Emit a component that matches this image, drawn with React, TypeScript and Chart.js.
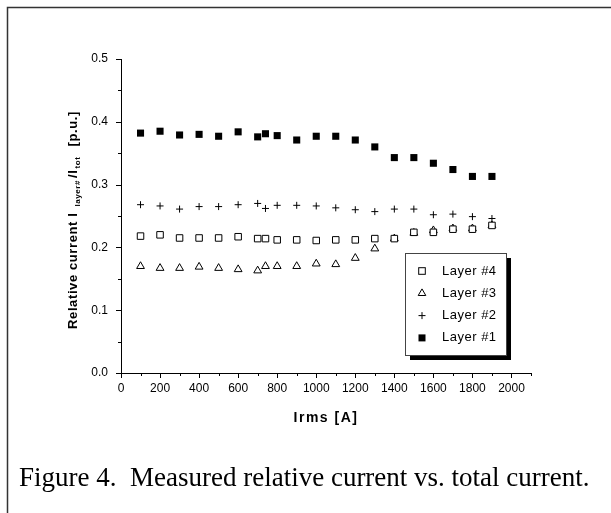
import React, { useEffect, useRef } from 'react';
import { Chart, registerables } from 'chart.js';

Chart.register(...registerables);

// ---- data ----
const IRMS = [100, 200, 300, 400, 500, 600, 700, 740, 800, 900, 1000, 1100, 1200, 1300, 1400, 1500, 1600, 1700, 1800, 1900];
const LAYER4 = [0.218, 0.220, 0.215, 0.215, 0.215, 0.217, 0.214, 0.214, 0.212, 0.212, 0.211, 0.212, 0.212, 0.214, 0.214, 0.224, 0.224, 0.229, 0.229, 0.235];
const LAYER3 = [0.170, 0.167, 0.167, 0.169, 0.167, 0.165, 0.163, 0.170, 0.170, 0.170, 0.174, 0.173, 0.183, 0.198, 0.214, 0.223, 0.227, 0.230, 0.230, 0.235];
const LAYER2 = [0.268, 0.266, 0.261, 0.265, 0.265, 0.268, 0.270, 0.262, 0.267, 0.267, 0.266, 0.263, 0.260, 0.257, 0.261, 0.261, 0.252, 0.253, 0.249, 0.246];
const LAYER1 = [0.382, 0.385, 0.379, 0.380, 0.377, 0.384, 0.376, 0.381, 0.378, 0.371, 0.377, 0.377, 0.371, 0.360, 0.343, 0.343, 0.334, 0.324, 0.313, 0.313];
const SERIES_LABELS = ['Layer #4', 'Layer #3', 'Layer #2', 'Layer #1'];
const X_TICKS = [0, 200, 400, 600, 800, 1000, 1200, 1400, 1600, 1800, 2000];
const Y_TICKS = [0, 0.1, 0.2, 0.3, 0.4, 0.5];
const X_MIN = 0, X_MAX = 2100, X_MINOR = 100;
const Y_MIN = 0, Y_MAX = 0.5, Y_MINOR = 0.05;
const X_TITLE = 'Irms [A]';
const Y_TITLE_MAIN = 'Relative current I';
const Y_TITLE_SUB1 = 'layer#';
const Y_TITLE_MID = '/I';
const Y_TITLE_SUB2 = 'tot';
const Y_TITLE_END = '[p.u.]';
const CAPTION = 'Figure 4.  Measured relative current vs. total current.';

const SANS = '"Liberation Sans", Arial, sans-serif';
const SERIF = '"Liberation Serif", "Times New Roman", serif';

const pts = (ys: number[]) => IRMS.map((x, i) => ({ x, y: ys[i] }));

function drawMarker(ctx: CanvasRenderingContext2D, kind: number, x: number, y: number) {
  ctx.save();
  ctx.strokeStyle = '#000';
  ctx.lineWidth = 1;
  if (kind === 0) {
    ctx.fillStyle = '#fff';
    ctx.fillRect(x - 3.3, y - 3.3, 6.6, 6.6);
    ctx.strokeRect(x - 3.3, y - 3.3, 6.6, 6.6);
  } else if (kind === 1) {
    const r = 4.4;
    ctx.beginPath();
    ctx.moveTo(x, y - r);
    ctx.lineTo(x + r * 0.866, y + r * 0.5);
    ctx.lineTo(x - r * 0.866, y + r * 0.5);
    ctx.closePath();
    ctx.fillStyle = '#fff';
    ctx.fill();
    ctx.stroke();
  } else if (kind === 2) {
    ctx.beginPath();
    ctx.moveTo(x - 3.5, y);
    ctx.lineTo(x + 3.5, y);
    ctx.moveTo(x, y - 3.5);
    ctx.lineTo(x, y + 3.5);
    ctx.stroke();
  } else {
    ctx.fillStyle = '#000';
    ctx.fillRect(x - 3.5, y - 3.5, 7, 7);
  }
  ctx.restore();
}

const decorPlugin = {
  id: 'decor',
  beforeDraw(chart: any) {
    const ctx: CanvasRenderingContext2D = chart.ctx;
    ctx.save();
    ctx.fillStyle = '#fff';
    ctx.fillRect(0, 0, chart.width, chart.height);
    ctx.strokeStyle = '#333';
    ctx.lineWidth = 1.5;
    ctx.strokeRect(7.5, 7.5, 700, 700);
    ctx.restore();
  },
  afterDraw(chart: any) {
    const ctx: CanvasRenderingContext2D = chart.ctx;
    const xs = chart.scales.x;
    const ys = chart.scales.y;
    const area = chart.chartArea;
    ctx.save();
    // ticks
    ctx.strokeStyle = '#000';
    ctx.lineWidth = 1;
    ctx.beginPath();
    for (let v = X_MIN; v <= X_MAX + 1e-6; v += X_MINOR) {
      const px = Math.round(xs.getPixelForValue(v)) + 0.5;
      const major = Math.abs(v % 200) < 1e-6;
      ctx.moveTo(px, area.bottom);
      ctx.lineTo(px, area.bottom + (major ? 5 : 3));
    }
    for (let i = 0; i <= Math.round((Y_MAX - Y_MIN) / Y_MINOR); i++) {
      const v = Y_MIN + i * Y_MINOR;
      const py = Math.round(ys.getPixelForValue(v)) + 0.5;
      const major = i % 2 === 0;
      ctx.moveTo(area.left, py);
      ctx.lineTo(area.left - (major ? 5 : 3), py);
    }
    ctx.stroke();

    // x title
    ctx.fillStyle = '#000';
    ctx.font = `bold 14px ${SANS}`;
    (ctx as any).letterSpacing = '1.5px';
    ctx.textAlign = 'center';
    ctx.textBaseline = 'middle';
    ctx.fillText(X_TITLE, (area.left + area.right) / 2, 418);

    // y title (rotated)
    const mainFont = `bold 13px ${SANS}`;
    const subFont = `bold 8px ${SANS}`;
    const parts = [
      { t: Y_TITLE_MAIN, f: mainFont, dy: 0, gap: 6 },
      { t: Y_TITLE_SUB1, f: subFont, dy: 5, gap: 2 },
      { t: Y_TITLE_MID, f: mainFont, dy: 0, gap: 1 },
      { t: Y_TITLE_SUB2, f: subFont, dy: 5, gap: 10 },
      { t: Y_TITLE_END, f: mainFont, dy: 0, gap: 0 },
    ];
    (ctx as any).letterSpacing = '0.6px';
    let total = 0;
    const widths = parts.map((p) => {
      ctx.font = p.f;
      const w = ctx.measureText(p.t).width;
      total += w + p.gap;
      return w;
    });
    ctx.translate(73, 220);
    ctx.rotate(-Math.PI / 2);
    ctx.textAlign = 'left';
    ctx.textBaseline = 'middle';
    let cx = -total / 2;
    parts.forEach((p, i) => {
      ctx.font = p.f;
      ctx.fillText(p.t, cx, p.dy);
      cx += widths[i] + p.gap;
    });
    ctx.setTransform(1, 0, 0, 1, 0, 0);

    // caption
    (ctx as any).letterSpacing = '0px';
    ctx.font = `27px ${SERIF}`;
    ctx.textAlign = 'left';
    ctx.textBaseline = 'alphabetic';
    ctx.fillText(CAPTION, 19, 486);

    // legend
    const lx = 405, ly = 253, lw = 101, lh = 102;
    ctx.fillStyle = '#000';
    ctx.fillRect(lx + 5, ly + 5, lw, lh);
    ctx.fillStyle = '#fff';
    ctx.fillRect(lx, ly, lw, lh);
    ctx.strokeStyle = '#444';
    ctx.lineWidth = 1;
    ctx.strokeRect(lx + 0.5, ly + 0.5, lw, lh);
    ctx.font = `13px ${SANS}`;
    (ctx as any).letterSpacing = '0.5px';
    ctx.textBaseline = 'middle';
    chart.data.datasets.forEach((ds: any, i: number) => {
      const yy = ly + 18 + i * 22.3;
      drawMarker(ctx, i, lx + 17, yy);
      ctx.fillStyle = '#000';
      ctx.fillText(ds.label, lx + 37, yy);
    });
    ctx.restore();
  },
};

export default function App() {
  const ref = useRef<HTMLCanvasElement>(null);
  useEffect(() => {
    if (!ref.current) return;
    const tickFont = { family: SANS, size: 12 };
    const chart = new Chart(ref.current, {
      type: 'scatter',
      data: {
        datasets: [
          { label: SERIES_LABELS[0], data: pts(LAYER4), pointStyle: 'rect', pointRadius: 4.6, backgroundColor: '#fff', borderColor: '#000', borderWidth: 1 },
          { label: SERIES_LABELS[1], data: pts(LAYER3), pointStyle: 'triangle', pointRadius: 4.5, backgroundColor: '#fff', borderColor: '#000', borderWidth: 1 },
          { label: SERIES_LABELS[2], data: pts(LAYER2), pointStyle: 'cross', pointRadius: 3.5, backgroundColor: '#000', borderColor: '#000', borderWidth: 1 },
          { label: SERIES_LABELS[3], data: pts(LAYER1), pointStyle: 'rect', pointRadius: 5, backgroundColor: '#000', borderColor: '#000', borderWidth: 0 },
        ],
      } as any,
      options: {
        responsive: false,
        animation: false,
        events: [],
        layout: { padding: { top: 59, right: 80, left: 0, bottom: 0 } },
        plugins: { legend: { display: false }, tooltip: { enabled: false } },
        scales: {
          x: {
            type: 'linear',
            min: X_MIN,
            max: X_MAX,
            afterFit: (s: any) => { s.height = 140; },
            afterBuildTicks: (s: any) => { s.ticks = X_TICKS.map((v) => ({ value: v })); },
            grid: { display: true, drawOnChartArea: false, drawTicks: false },
            border: { display: true, color: '#000', width: 1 },
            ticks: { padding: 8, font: tickFont, color: '#000', maxRotation: 0, callback: (v: any) => String(v) },
          },
          y: {
            type: 'linear',
            min: Y_MIN,
            max: Y_MAX,
            afterFit: (s: any) => { s.width = 121; },
            afterBuildTicks: (s: any) => { s.ticks = Y_TICKS.map((v) => ({ value: v })); },
            grid: { display: true, drawOnChartArea: false, drawTicks: false },
            border: { display: true, color: '#000', width: 1 },
            ticks: { padding: 13, font: tickFont, color: '#000', callback: (v: any) => Number(v).toFixed(1) },
          },
        },
      } as any,
      plugins: [decorPlugin],
    });
    return () => chart.destroy();
  }, []);
  return (
    <div style={{ position: 'absolute', left: 0, top: 0, width: 611, height: 513 }}>
      <canvas ref={ref} width={611} height={513} style={{ display: 'block', width: 611, height: 513 }} />
    </div>
  );
}
